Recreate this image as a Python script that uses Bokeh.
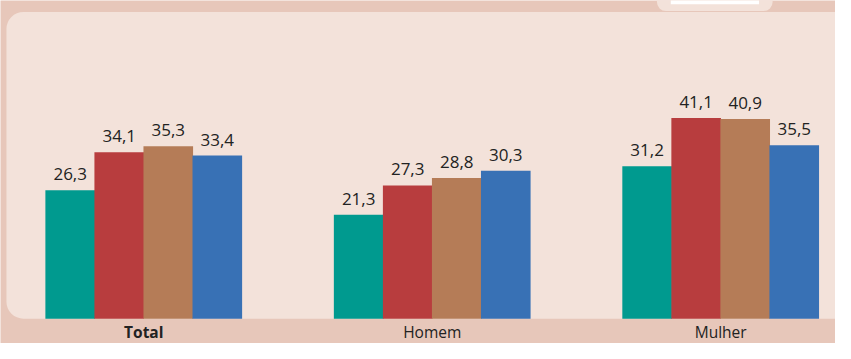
from bokeh.plotting import figure
from bokeh.models import BoxAnnotation, Range1d, ColumnDataSource
from bokeh.core.properties import value
from bokeh.embed import file_html
from bokeh.resources import INLINE

# ---- data ----
categories = ["Total", "Homem", "Mulher"]
s1 = [26.3, 21.3, 31.2]
s2 = [34.1, 27.3, 41.1]
s3 = [35.3, 28.8, 40.9]
s4 = [33.4, 30.3, 35.5]
cat_styles = ["bold", "normal", "normal"]

colors = ["#009a8f", "#b83d3e", "#b57c57", "#3871b5"]
outer = "#e7c7ba"
panel = "#f3e2da"

p = figure(width=835, height=343, output_backend="svg", toolbar_location=None,
           x_range=Range1d(-0.4966, 2.398), y_range=Range1d(-5.09, 65.17),
           min_border=0, x_axis_location=None, y_axis_location=None)
p.grid.visible = False
p.outline_line_color = None
p.background_fill_color = outer
p.border_fill_color = outer

# panel (rounded on the left only; continues past right edge)
p.add_layout(BoxAnnotation(left=-0.476, right=3.0, bottom=0, top=62.82,
                           fill_color=panel, fill_alpha=1, line_color=None,
                           border_radius=(17, 0, 0, 17), level="underlay"))
# tab at top right
p.add_layout(BoxAnnotation(left=1.779, right=2.180, bottom=63.01, top=80,
                           fill_color=panel, fill_alpha=1, line_color=None,
                           border_radius=(0, 0, 9, 9), level="underlay"))
p.add_layout(BoxAnnotation(left=1.827, right=2.133, bottom=64.38, top=80,
                           fill_color="#ffffff", fill_alpha=1, line_color=None,
                           level="underlay"))

w = 0.170
all_series = [s1, s2, s3, s4]
for j, vals in enumerate(all_series):
    xs = [i + (j - 1.5) * w for i in range(len(categories))]
    src = ColumnDataSource(dict(x=xs, top=vals,
                                lab=[f"{v:.1f}".replace(".", ",") for v in vals]))
    p.vbar(x="x", top="top", bottom=0, width=w + 0.002, source=src,
           fill_color=colors[j], line_color=None)
    p.text(x="x", y="top", text="lab", source=src, text_align="center",
           text_baseline="bottom", y_offset=-10, text_font=value("Open Sans"),
           text_font_size="17px", text_color="#222222")

csrc = ColumnDataSource(dict(x=list(range(len(categories))), y=[0] * len(categories),
                             t=categories, st=cat_styles))
p.text(x="x", y="y", text="t", source=csrc, text_align="center", text_baseline="top",
       y_offset=2, text_font=value("Open Sans"), text_font_size="15.5px",
       text_font_style="st", text_color="#222222")

open("out.html", "w").write(file_html(p, INLINE))
